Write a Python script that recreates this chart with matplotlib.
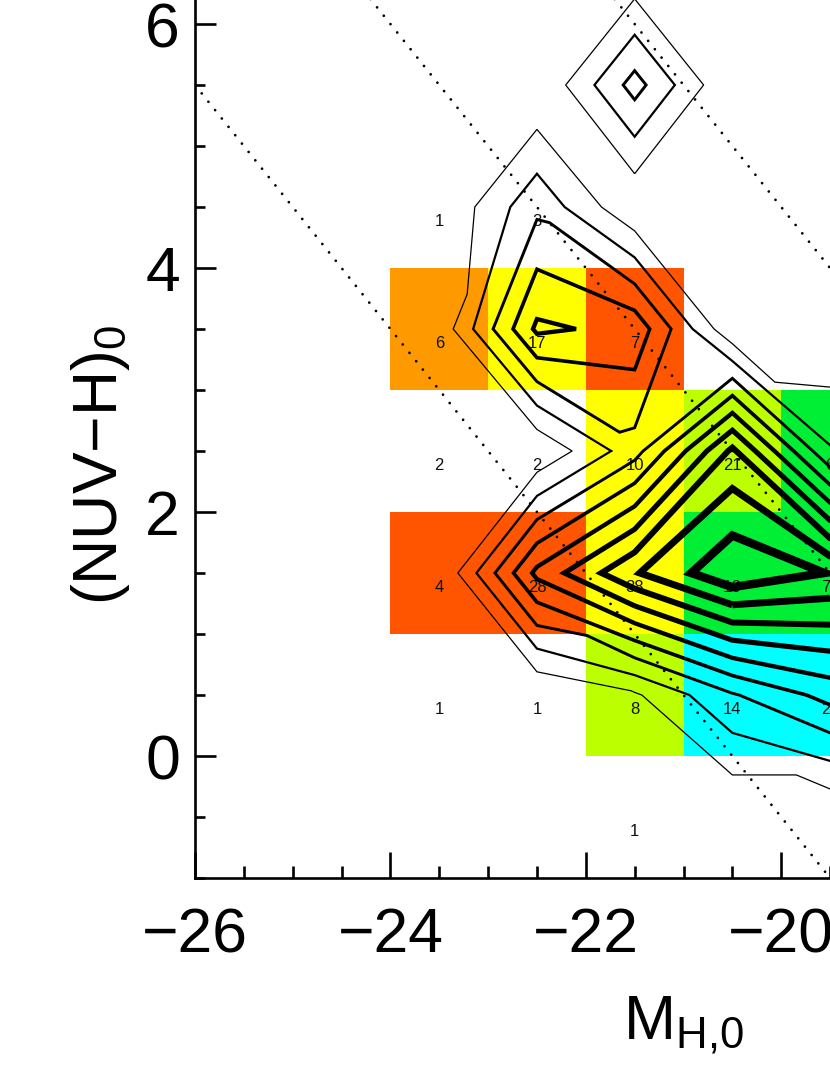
import numpy as np
import matplotlib
matplotlib.use("Agg")
import matplotlib.pyplot as plt
import matplotlib.tri as mtri
from matplotlib.colors import ListedColormap, BoundaryNorm
from matplotlib.ticker import MultipleLocator

"""
Colour-magnitude plane (NUV-H)_0 vs M_H,0: binned sample with counts,
density contours and the dotted limit lines.
"""

# colour class of each 1x1 bin (nan = empty bin)
cell_x_edges = [-24, -23, -22, -21, -20, -19]
cell_y_edges = [0, 1, 2, 3, 4]
cell_class = [
    [np.nan, np.nan, 2, 0, 0],      # 0 < y < 1
    [5, 5, 3, 1, 1],                # 1 < y < 2
    [np.nan, np.nan, 3, 2, 1],      # 2 < y < 3
    [4, 3, 5, np.nan, np.nan],      # 3 < y < 4
]
class_colors = ["#00ffff", "#00ee33", "#bbff00", "#ffff00", "#ff9900", "#ff5500"]

# number of objects per bin, at the bin centres
count_x = [-23.5, -22.5,
           -23.5, -22.5, -21.5,
           -23.5, -22.5, -21.5, -20.5, -19.5,
           -23.5, -22.5, -21.5, -20.5, -19.5,
           -23.5, -22.5, -21.5, -20.5, -19.5,
           -21.5]
count_y = [4.5, 4.5,
           3.5, 3.5, 3.5,
           2.5, 2.5, 2.5, 2.5, 2.5,
           1.5, 1.5, 1.5, 1.5, 1.5,
           0.5, 0.5, 0.5, 0.5, 0.5,
           -0.5]
count_n = [1, 3,
           6, 17, 7,
           2, 2, 10, 21, 6,
           4, 28, 38, 16, 74,
           1, 1, 8, 14, 23,
           1]

# density on the bin-centre grid, contoured at integer levels
dens_x = [-24.5, -23.5, -22.5, -21.5, -20.5, -19.5, -18.5]
dens_y = [-0.5, 0.5, 1.5, 2.5, 3.5, 4.5, 5.5, 6.5]
dens = [
    [0, 0,   0,    0,    0,    0,    0],
    [0, 0,   0,    0.85, 2.9,  4.35, 3.5],
    [0, 0,   5.26, 7.9,  9.8,  8.95, 6.0],
    [0, 0,   0.1,  2.6,  7.2,  2.1,  1.0],
    [0, 0.3, 5.2,  4.7,  0.15, 0,    0],
    [0, 0,   2.75, 0.1,  0,    0,    0],
    [0, 0,   0,    3.4,  0,    0,    0],
    [0, 0,   0,    0,    0,    0,    0],
]
levels = [1, 2, 3, 4, 5, 6, 7, 8, 9]
level_lw = [0.9, 1.6, 2.1, 2.6, 3.1, 3.7, 4.3, 5.0, 6.1]

# dotted limits: y = c - x
limit_offsets = [-20.5, -18.0, -15.5]


def cells(nx, ny):
    for j in range(ny - 1):
        for i in range(nx - 1):
            a = j * nx + i
            yield a, a + 1, a + nx + 1, a + nx


def joins_saddle(zf, nx, ny, level):
    # True if the plain quad contour would join two high corners of a saddle
    for a, b, c, d in cells(nx, ny):
        up = [zf[k] > level for k in (a, b, c, d)]
        if sum(up) == 2 and up[0] == up[2]:
            if np.mean([zf[a], zf[b], zf[c], zf[d]]) > level:
                return True
    return False


def crossing(p, q, zp, zq, level):
    return p + (level - zp) / (zq - zp) * (q - p)


def level_triangles(pts, zf, nx, ny, level):
    # split each cell along the diagonal that bends the contour least;
    # in saddle cells keep the high corners apart
    tris = []
    for a, b, c, d in cells(nx, ny):
        up = [zf[k] > level for k in (a, b, c, d)]
        n = sum(up)
        if n in (0, 4):
            bd = False
        elif n == 2 and up[0] == up[2]:
            bd = not up[1]
        else:
            p1, p2 = [crossing(pts[u], pts[v], zf[u], zf[v], level)
                      for u, v in ((a, b), (b, c), (c, d), (d, a))
                      if (zf[u] > level) != (zf[v] > level)]
            seg = p2 - p1
            dev = []
            for u, v in ((a, c), (b, d)):
                if (zf[u] > level) == (zf[v] > level):
                    dev.append(0.0)
                else:
                    q = crossing(pts[u], pts[v], zf[u], zf[v], level) - p1
                    dev.append(abs(seg[0] * q[1] - seg[1] * q[0]) /
                               max(np.hypot(*seg), 1e-9))
            bd = dev[1] < dev[0]
        if bd:
            tris += [[a, b, d], [b, c, d]]
        else:
            tris += [[a, b, c], [a, c, d]]
    return tris


def main():
    plt.rcParams["font.family"] = "Liberation Sans"
    plt.rcParams["mathtext.fontset"] = "custom"
    plt.rcParams["mathtext.rm"] = "Liberation Sans"
    plt.rcParams["mathtext.it"] = "Liberation Sans"
    plt.rcParams["mathtext.default"] = "rm"

    fig = plt.figure(figsize=(8.3, 10.75), dpi=100)
    ax = fig.add_axes([195 / 830, 197 / 1075, 977 / 830, 976 / 1075])
    ax.set_xlim(-26, -16)
    ax.set_ylim(-1, 7)

    # coloured bins
    cmap = ListedColormap(class_colors)
    norm = BoundaryNorm(np.arange(-0.5, len(class_colors)), len(class_colors))
    ax.pcolormesh(cell_x_edges, cell_y_edges, np.ma.masked_invalid(cell_class),
                  cmap=cmap, norm=norm, edgecolors="none", antialiased=False,
                  zorder=1)

    # counts
    for x, y, n in zip(count_x, count_y, count_n):
        ax.text(x, y - 0.12, str(n), ha="center", va="center", fontsize=12,
                color="#111111", zorder=2)

    # dotted limit lines
    xs = np.array([-26.0, -16.0])
    for c in limit_offsets:
        ax.plot(xs, c - xs, color="k", lw=2.0, linestyle=(0, (0.01, 3.85)),
                dash_capstyle="round", zorder=3)

    # density contours, thicker for higher levels
    X, Y = np.meshgrid(dens_x, dens_y)
    z = np.array(dens, dtype=float)
    zf = z.ravel()
    pts = np.column_stack([X.ravel(), Y.ravel()])
    ny, nx = z.shape
    for lev, lw in zip(levels, level_lw):
        if joins_saddle(zf, nx, ny, lev):
            tri = mtri.Triangulation(X.ravel(), Y.ravel(),
                                     level_triangles(pts, zf, nx, ny, lev))
            cs = ax.tricontour(tri, zf, levels=[lev], colors="k",
                               linewidths=lw, zorder=4)
        else:
            cs = ax.contour(X, Y, z, levels=[lev], colors="k",
                            linewidths=lw, zorder=4)
        cs.set_joinstyle("miter")

    # axes
    ax.xaxis.set_major_locator(MultipleLocator(2))
    ax.xaxis.set_minor_locator(MultipleLocator(0.5))
    ax.yaxis.set_major_locator(MultipleLocator(2))
    ax.yaxis.set_minor_locator(MultipleLocator(0.5))
    ax.tick_params(which="both", direction="in", width=1.9, top=False, right=False)
    ax.tick_params(axis="x", which="major", length=18.7, pad=20.5, labelsize=45)
    ax.tick_params(axis="x", which="minor", length=8.6)
    ax.tick_params(axis="y", which="major", length=15, pad=10.8, labelsize=45)
    ax.tick_params(axis="y", which="minor", length=7.5)
    for s in ax.spines.values():
        s.set_linewidth(1.9)

    ax.set_xlabel(r"M$_{\mathrm{H{,}0}}$", fontsize=45)
    ax.xaxis.set_label_coords(0.5, -0.12)
    ax.set_ylabel("(NUV\u2212H)$_0$", fontsize=45)
    ax.yaxis.set_label_coords(-0.064, 0.423)

    fig.savefig("out.png", dpi=100)


if __name__ == "__main__":
    main()
